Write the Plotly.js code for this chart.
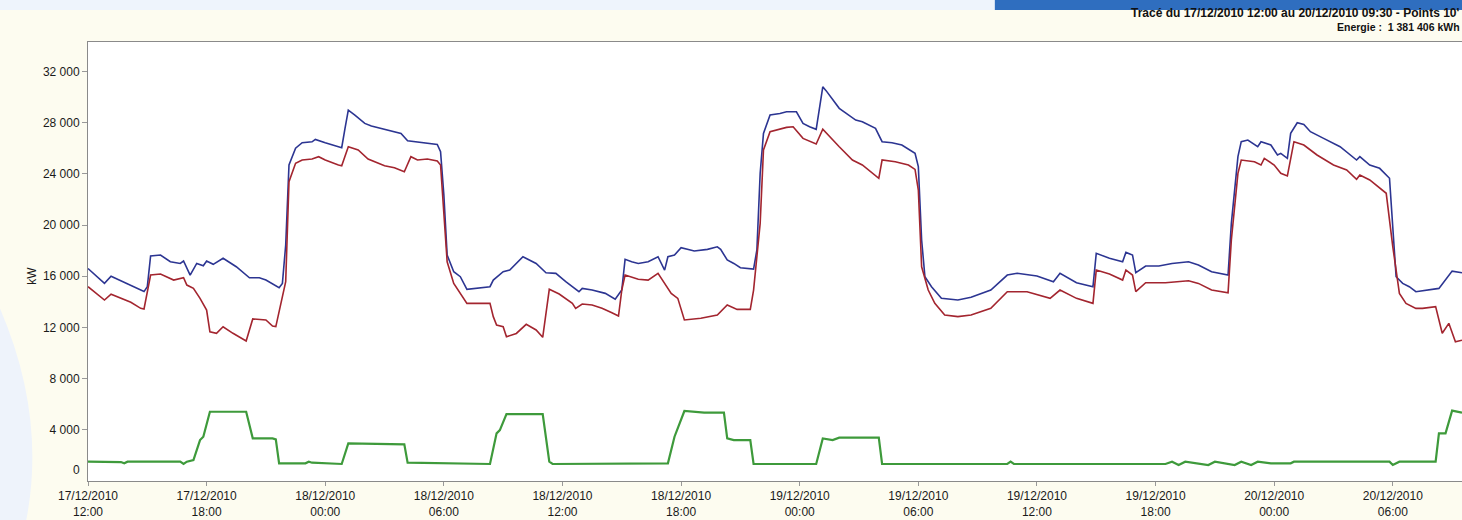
<!DOCTYPE html>
<html>
<head>
<meta charset="utf-8">
<script src="https://cdn.plot.ly/plotly-3.0.1.min.js"></script>
<style>
html,body{margin:0;padding:0;background:#FDFCF0;}
#chart{width:1462px;height:520px;}
</style>
</head>
<body>
<div id="chart"></div>
<script>
// ---- Data (kW, 10-minute points, key breakpoints) ----
const blueTime = [
'2010-12-17 12:00','2010-12-17 12:50','2010-12-17 13:10','2010-12-17 14:10','2010-12-17 14:50','2010-12-17 15:00','2010-12-17 15:10','2010-12-17 15:40','2010-12-17 16:10','2010-12-17 16:40','2010-12-17 16:50','2010-12-17 17:10','2010-12-17 17:30','2010-12-17 17:50','2010-12-17 18:00','2010-12-17 18:20','2010-12-17 18:50','2010-12-17 19:30','2010-12-17 20:10','2010-12-17 20:40','2010-12-17 21:00','2010-12-17 21:40','2010-12-17 21:50','2010-12-17 22:00','2010-12-17 22:10','2010-12-17 22:30','2010-12-17 22:50','2010-12-17 23:20','2010-12-17 23:30',
'2010-12-18 00:00','2010-12-18 00:50','2010-12-18 01:00','2010-12-18 01:10','2010-12-18 01:30','2010-12-18 02:00','2010-12-18 02:20','2010-12-18 02:50','2010-12-18 03:30','2010-12-18 03:50','2010-12-18 04:10','2010-12-18 04:40','2010-12-18 05:10','2010-12-18 05:40','2010-12-18 05:50','2010-12-18 06:00','2010-12-18 06:10','2010-12-18 06:30','2010-12-18 06:50','2010-12-18 07:10','2010-12-18 08:20','2010-12-18 08:30','2010-12-18 09:00','2010-12-18 09:20','2010-12-18 10:00','2010-12-18 10:40','2010-12-18 11:10','2010-12-18 11:40','2010-12-18 12:10','2010-12-18 12:50','2010-12-18 13:00','2010-12-18 13:30','2010-12-18 14:10','2010-12-18 14:40','2010-12-18 15:00','2010-12-18 15:10','2010-12-18 15:30','2010-12-18 15:50','2010-12-18 16:20','2010-12-18 16:50','2010-12-18 17:10','2010-12-18 17:20','2010-12-18 17:40','2010-12-18 18:00','2010-12-18 18:40','2010-12-18 19:20','2010-12-18 19:50','2010-12-18 20:00','2010-12-18 20:20','2010-12-18 20:40','2010-12-18 21:00','2010-12-18 21:40','2010-12-18 21:50','2010-12-18 22:00','2010-12-18 22:10','2010-12-18 22:30','2010-12-18 23:00','2010-12-18 23:20','2010-12-18 23:50',
'2010-12-19 00:10','2010-12-19 00:30','2010-12-19 00:50','2010-12-19 01:10','2010-12-19 01:20','2010-12-19 02:00','2010-12-19 02:50','2010-12-19 03:10','2010-12-19 03:50','2010-12-19 04:10','2010-12-19 04:40','2010-12-19 05:10','2010-12-19 05:50','2010-12-19 06:00','2010-12-19 06:10','2010-12-19 06:20','2010-12-19 06:40','2010-12-19 07:10','2010-12-19 08:00','2010-12-19 08:40','2010-12-19 09:40','2010-12-19 10:30','2010-12-19 11:00','2010-12-19 12:00','2010-12-19 12:50','2010-12-19 13:10','2010-12-19 13:30','2010-12-19 14:00','2010-12-19 14:50','2010-12-19 15:00','2010-12-19 15:40','2010-12-19 16:20','2010-12-19 16:30','2010-12-19 16:50','2010-12-19 17:00','2010-12-19 17:30','2010-12-19 18:10','2010-12-19 18:50','2010-12-19 19:40','2010-12-19 20:10','2010-12-19 20:50','2010-12-19 21:40','2010-12-19 21:50','2010-12-19 22:10','2010-12-19 22:20','2010-12-19 22:40','2010-12-19 23:10','2010-12-19 23:20','2010-12-19 23:50',
'2010-12-20 00:10','2010-12-20 00:20','2010-12-20 00:40','2010-12-20 00:50','2010-12-20 01:10','2010-12-20 01:30','2010-12-20 01:50','2010-12-20 02:30','2010-12-20 03:20','2010-12-20 04:10','2010-12-20 04:20','2010-12-20 04:50','2010-12-20 05:20','2010-12-20 05:50','2010-12-20 06:00','2010-12-20 06:10','2010-12-20 06:30','2010-12-20 06:50','2010-12-20 07:10','2010-12-20 07:40','2010-12-20 08:20','2010-12-20 09:00','2010-12-20 09:30'];
const blueKW = [
16600,15440,16000,15300,14800,15180,17580,17660,17130,17000,17190,16090,17000,16820,17190,16930,17400,16740,15880,15880,15700,15100,15440,18440,24690,26000,26430,26500,26690,
26430,26040,27550,28980,28590,27940,27730,27550,27290,27160,26590,26510,26380,26300,25730,22340,17660,16350,15960,14980,15180,15700,16350,16480,17520,17000,16270,16220,15570,14790,15050,14920,14660,14200,14920,17320,17130,17000,17130,17520,16480,17520,17660,18230,17970,18100,18300,18100,17270,17000,16660,16560,18050,24040,27160,28590,28720,28850,28850,
27940,27680,27480,30800,30500,29120,28200,28070,27550,26510,26430,26250,25600,24560,18830,15960,15180,14270,14140,14350,14920,16090,16230,16020,15570,16230,15960,15490,15180,17790,17400,17130,17860,17660,16270,16800,16800,17000,17130,16880,16350,16090,20130,25340,26510,26640,26120,26510,26250,
25470,25600,25210,27160,27990,27860,27290,26770,26120,25080,25340,24690,24430,23650,19610,15960,15440,15180,14790,14920,15050,16400,16270];

const redTime = [
'2010-12-17 12:00','2010-12-17 12:50','2010-12-17 13:10','2010-12-17 14:10','2010-12-17 14:40','2010-12-17 14:50','2010-12-17 15:10','2010-12-17 15:40','2010-12-17 16:20','2010-12-17 16:50','2010-12-17 17:00','2010-12-17 17:20','2010-12-17 17:40','2010-12-17 18:00','2010-12-17 18:10','2010-12-17 18:30','2010-12-17 18:50','2010-12-17 19:20','2010-12-17 20:00','2010-12-17 20:20','2010-12-17 21:00','2010-12-17 21:20','2010-12-17 21:30','2010-12-17 21:50','2010-12-17 22:00','2010-12-17 22:10','2010-12-17 22:30','2010-12-17 22:50','2010-12-17 23:20','2010-12-17 23:40',
'2010-12-18 00:00','2010-12-18 00:40','2010-12-18 00:50','2010-12-18 01:10','2010-12-18 01:40','2010-12-18 02:10','2010-12-18 02:40','2010-12-18 03:00','2010-12-18 03:30','2010-12-18 04:00','2010-12-18 04:20','2010-12-18 04:40','2010-12-18 05:10','2010-12-18 05:40','2010-12-18 05:50','2010-12-18 06:00','2010-12-18 06:10','2010-12-18 06:30','2010-12-18 06:50','2010-12-18 07:10','2010-12-18 08:20','2010-12-18 08:30','2010-12-18 08:40','2010-12-18 09:00','2010-12-18 09:10','2010-12-18 09:40','2010-12-18 10:10','2010-12-18 10:40','2010-12-18 11:00','2010-12-18 11:20','2010-12-18 11:50','2010-12-18 12:30','2010-12-18 12:40','2010-12-18 13:00','2010-12-18 13:30','2010-12-18 14:00','2010-12-18 14:30','2010-12-18 14:50','2010-12-18 15:00','2010-12-18 15:10','2010-12-18 15:50','2010-12-18 16:20','2010-12-18 16:50','2010-12-18 17:10','2010-12-18 17:30','2010-12-18 17:50','2010-12-18 18:10','2010-12-18 19:00','2010-12-18 19:50','2010-12-18 20:20','2010-12-18 20:50','2010-12-18 21:30','2010-12-18 21:40','2010-12-18 22:00','2010-12-18 22:10','2010-12-18 22:30','2010-12-18 23:20','2010-12-18 23:40',
'2010-12-19 00:10','2010-12-19 00:50','2010-12-19 01:10','2010-12-19 02:00','2010-12-19 02:40','2010-12-19 03:10','2010-12-19 04:00','2010-12-19 04:10','2010-12-19 04:50','2010-12-19 05:30','2010-12-19 05:50','2010-12-19 06:00','2010-12-19 06:10','2010-12-19 06:30','2010-12-19 06:50','2010-12-19 07:20','2010-12-19 08:00','2010-12-19 08:40','2010-12-19 09:40','2010-12-19 10:30','2010-12-19 11:30','2010-12-19 12:40','2010-12-19 13:10','2010-12-19 14:00','2010-12-19 14:50','2010-12-19 15:00','2010-12-19 15:40','2010-12-19 16:20','2010-12-19 16:30','2010-12-19 16:50','2010-12-19 17:00','2010-12-19 17:30','2010-12-19 18:30','2010-12-19 19:40','2010-12-19 20:10','2010-12-19 20:50','2010-12-19 21:40','2010-12-19 21:50','2010-12-19 22:10','2010-12-19 22:20','2010-12-19 23:00','2010-12-19 23:20','2010-12-19 23:30',
'2010-12-20 00:00','2010-12-20 00:20','2010-12-20 00:40','2010-12-20 01:00','2010-12-20 01:30','2010-12-20 02:10','2010-12-20 03:00','2010-12-20 03:40','2010-12-20 04:10','2010-12-20 04:20','2010-12-20 04:50','2010-12-20 05:40','2010-12-20 06:00','2010-12-20 06:20','2010-12-20 06:40','2010-12-20 07:10','2010-12-20 07:30','2010-12-20 08:10','2010-12-20 08:30','2010-12-20 08:50','2010-12-20 09:10','2010-12-20 09:30'];
const redKW = [
15180,14140,14590,13960,13490,13440,16090,16170,15700,15880,15310,15050,14270,13360,11660,11540,12050,11540,10940,12660,12580,12110,12060,14270,15570,23380,24820,25080,25160,25340,
25080,24690,24630,26120,25860,25160,24820,24630,24470,24160,25340,25080,25160,25000,24690,21040,17130,15440,14660,13880,13880,12840,12190,12060,11270,11530,12240,11800,11230,14980,14610,13880,13490,13830,13750,13490,13150,12890,14920,16090,15760,15700,16230,15440,14660,14270,12580,12710,12970,13750,13410,13410,14920,20130,25860,27290,27630,27680,
26770,26330,27480,26120,25080,24690,23650,25080,24950,24690,24350,22730,16740,14920,13880,12970,12840,12970,13490,14790,14790,14270,14920,14270,13880,16480,16170,15700,16480,16090,14790,15490,15490,15650,15440,14920,14710,18830,24040,25080,24950,24690,25210,
24690,24040,23830,26510,26250,25470,24690,24300,23570,23910,23520,22480,18300,14660,13880,13490,13490,13620,11540,12320,10880,11000];

const greenTime = [
'2010-12-17 12:00','2010-12-17 13:40','2010-12-17 13:50','2010-12-17 14:00','2010-12-17 16:40','2010-12-17 16:50','2010-12-17 17:00','2010-12-17 17:20','2010-12-17 17:40','2010-12-17 17:50','2010-12-17 18:10','2010-12-17 20:00','2010-12-17 20:20','2010-12-17 21:20','2010-12-17 21:30','2010-12-17 21:40','2010-12-17 23:00','2010-12-17 23:10','2010-12-17 23:20',
'2010-12-18 00:40','2010-12-18 00:50','2010-12-18 01:10','2010-12-18 04:00','2010-12-18 04:10','2010-12-18 08:20','2010-12-18 08:40','2010-12-18 08:50','2010-12-18 09:10','2010-12-18 11:00','2010-12-18 11:20','2010-12-18 11:30','2010-12-18 17:20','2010-12-18 17:40','2010-12-18 18:10','2010-12-18 19:10','2010-12-18 20:10','2010-12-18 20:20','2010-12-18 20:40','2010-12-18 21:30','2010-12-18 21:40',
'2010-12-19 00:50','2010-12-19 01:10','2010-12-19 01:40','2010-12-19 02:00','2010-12-19 04:00','2010-12-19 04:10','2010-12-19 10:30','2010-12-19 10:40','2010-12-19 10:50','2010-12-19 18:30','2010-12-19 18:50','2010-12-19 19:10','2010-12-19 19:30','2010-12-19 20:40','2010-12-19 21:00','2010-12-19 22:00','2010-12-19 22:20','2010-12-19 22:50','2010-12-19 23:10','2010-12-19 23:50',
'2010-12-20 00:50','2010-12-20 01:00','2010-12-20 05:50','2010-12-20 06:00','2010-12-20 06:20','2010-12-20 08:10','2010-12-20 08:20','2010-12-20 08:40','2010-12-20 09:00','2010-12-20 09:30'];
const greenKW = [
1510,1480,1380,1510,1510,1330,1510,1640,3200,3460,5410,5410,3330,3330,3250,1380,1380,1510,1430,
1380,1330,2940,2860,1430,1330,3720,3980,5230,5230,1510,1330,1380,3460,5470,5340,5340,3330,3200,3200,1330,
1330,3330,3200,3390,3390,1330,1330,1510,1330,1330,1510,1250,1510,1250,1510,1250,1510,1250,1510,1380,
1380,1510,1510,1250,1510,1510,3720,3720,5500,5340];

const xTickVals = ['2010-12-17 12:00','2010-12-17 18:00','2010-12-18 00:00','2010-12-18 06:00','2010-12-18 12:00','2010-12-18 18:00','2010-12-19 00:00','2010-12-19 06:00','2010-12-19 12:00','2010-12-19 18:00','2010-12-20 00:00','2010-12-20 06:00'];
const xTickText = ['17/12/2010<br>12:00','17/12/2010<br>18:00','18/12/2010<br>00:00','18/12/2010<br>06:00','18/12/2010<br>12:00','18/12/2010<br>18:00','19/12/2010<br>00:00','19/12/2010<br>06:00','19/12/2010<br>12:00','19/12/2010<br>18:00','20/12/2010<br>00:00','20/12/2010<br>06:00'];
const yTickVals = [4000,8000,12000,16000,20000,24000,28000,32000];
const yTickText = ['4 000','8 000','12 000','16 000','20 000','24 000','28 000','32 000'];
const headerLine1 = "Tracé du 17/12/2010 12:00 au 20/12/2010 09:30 - Points 10'";
const headerLine2 = "Energie :  1 381 406 kWh";

const FONT = 'Liberation Sans, Arial, sans-serif';

const traces = [
  {x: greenTime, y: greenKW, type: 'scatter', mode: 'lines', line: {color: '#3E9A3B', width: 2.2}, hoverinfo: 'skip'},
  {x: blueTime, y: blueKW, type: 'scatter', mode: 'lines', line: {color: '#2C3592', width: 1.6}, hoverinfo: 'skip'},
  {x: redTime, y: redKW, type: 'scatter', mode: 'lines', line: {color: '#A3252F', width: 1.6}, hoverinfo: 'skip'}
];

const layout = {
  width: 1462, height: 520,
  margin: {l: 88, r: 0, t: 42, b: 39, pad: 0},
  paper_bgcolor: '#FDFCF0',
  plot_bgcolor: '#FFFFFF',
  showlegend: false,
  hovermode: false,
  font: {family: FONT, size: 11, color: '#1a1a1a'},
  xaxis: {
    type: 'date',
    range: ['2010-12-17 12:00', '2010-12-20 09:30'],
    tickmode: 'array', tickvals: xTickVals, ticktext: xTickText,
    ticks: 'outside', ticklen: 4, tickcolor: '#999', tickwidth: 1,
    showgrid: false, zeroline: false,
    showline: true, linecolor: '#8a8a8a', linewidth: 1, mirror: true,
    tickfont: {family: FONT, size: 12, color: '#1a1a1a'}
  },
  yaxis: {
    range: [0, 34300],
    tickmode: 'array', tickvals: yTickVals, ticktext: yTickText,
    ticks: 'outside', ticklen: 5, tickcolor: '#999', tickwidth: 1,
    showgrid: false, zeroline: false,
    showline: true, linecolor: '#8a8a8a', linewidth: 1, mirror: true,
    tickfont: {family: FONT, size: 12, color: '#1a1a1a'}
  },
  shapes: [
    {type: 'rect', xref: 'paper', yref: 'paper', x0: -0.07, x1: 1.01, y0: 1.0729, y1: 1.10, fillcolor: '#EEF4FC', line: {width: 0}, layer: 'below'},
    {type: 'rect', xref: 'paper', yref: 'paper', x0: 0.660, x1: 1.01, y0: 1.0729, y1: 1.10, fillcolor: '#2F6EBF', line: {width: 0}, layer: 'below'},
    {type: 'path', xref: 'paper', yref: 'paper', path: 'M -0.065 0.40 Q -0.03 0.15 -0.045 -0.09 L -0.065 -0.09 Z', fillcolor: '#EEF3FB', line: {width: 0}, layer: 'below'}
  ],
  annotations: [
    {xref: 'paper', yref: 'paper', x: 1.0, y: 1.066, xanchor: 'right', yanchor: 'middle', showarrow: false,
     text: '<b>' + headerLine1 + '</b>', font: {family: FONT, size: 12, color: '#111'}},
    {xref: 'paper', yref: 'paper', x: 1.0, y: 1.0342, xanchor: 'right', yanchor: 'middle', showarrow: false,
     text: '<b>' + headerLine2 + '</b>', font: {family: FONT, size: 10.5, color: '#111'}},
    {xref: 'paper', yref: 'y', x: 0, y: 0, xanchor: 'right', yanchor: 'middle', xshift: -6, yshift: 11, showarrow: false,
     text: '0', font: {family: FONT, size: 12, color: '#1a1a1a'}},
    {xref: 'paper', yref: 'paper', x: -0.041, y: 0.467, xanchor: 'center', yanchor: 'middle', showarrow: false, textangle: -90,
     text: 'kW', font: {family: FONT, size: 12, color: '#1a1a1a'}}
  ]
};

Plotly.newPlot('chart', traces, layout, {displayModeBar: false, staticPlot: true});
</script>
</body>
</html>
